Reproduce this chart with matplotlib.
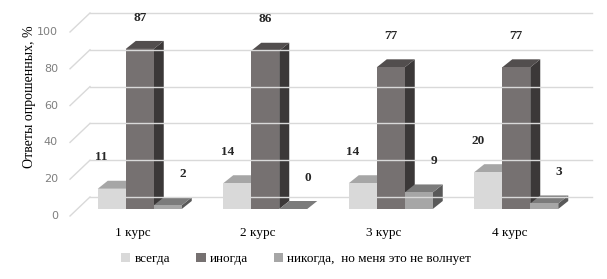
import matplotlib.pyplot as plt
from matplotlib.patches import Polygon, Patch

# data
courses = ['1 курс', '2 курс', '3 курс', '4 курс']
series_names = ['всегда', 'иногда', 'никогда,  но меня это не волнует']
always = [11, 14, 14, 20]
sometimes = [87, 86, 77, 77]
never = [2, 0, 9, 3]
y_ticks = [0, 20, 40, 60, 80, 100]

# colours: front, top, side
colors = [('#d9d9d9', '#a6a6a6', '#8c8c8c'),
          ('#767171', '#524e4e', '#3b3838'),
          ('#a6a6a6', '#7b7b7b', '#595959')]
label_dx = [-10, 0, 15]   # px shift of value labels per series

W, H, DPI = 6.07, 2.79, 100
fig = plt.figure(figsize=(W, H), dpi=DPI)
# axes = front plane of the 3d box
ax_l, ax_b, ax_w, ax_h = 70, 63, 502, 184   # pixels
ax = fig.add_axes([ax_l / 607, ax_b / 279, ax_w / 607, ax_h / 279])
ax.set_xlim(-0.5, len(courses) - 0.5)
ax.set_ylim(0, 100)
ax.axis('off')

px_x = (len(courses)) / ax_w     # data units per pixel
px_y = 100 / ax_h

def dx(p):
    return p * px_x

def dy(p):
    return p * px_y

# back wall grid + side wall diagonals
wall_x, wall_y = 20, 19
for t in y_ticks:
    ax.plot([-0.5 + dx(wall_x), len(courses) - 0.5 + dx(wall_x)],
            [t + dy(wall_y), t + dy(wall_y)], color='#d9d9d9', lw=1, clip_on=False)
    ax.plot([-0.5, -0.5 + dx(wall_x)], [t, t + dy(wall_y)],
            color='#d9d9d9', lw=1, clip_on=False)
    ax.text(-0.5 - dx(12), t, str(t), ha='right', va='center', fontsize=8,
            color='#7f7f7f', family='DejaVu Sans')

# bars
bar_w = 28 * px_x
off_x, off_y = dx(7), dy(7)       # bar position inside depth
dep_x, dep_y = dx(10), dy(8)      # bar depth
series = [always, sometimes, never]
for si, vals in enumerate(series):
    front, top, side = colors[si]
    for gi, v in enumerate(vals):
        x0 = gi + (si - 1) * bar_w - bar_w / 2 + off_x
        y0 = off_y
        x1 = x0 + bar_w
        y1 = y0 + v
        ax.add_patch(Polygon([(x1, y0), (x1, y1), (x1 + dep_x, y1 + dep_y),
                              (x1 + dep_x, y0 + dep_y)], closed=True,
                             facecolor=side, edgecolor='none', clip_on=False))
        ax.add_patch(Polygon([(x0, y1), (x1, y1), (x1 + dep_x, y1 + dep_y),
                              (x0 + dep_x, y1 + dep_y)], closed=True,
                             facecolor=top, edgecolor='none', clip_on=False))
        if v > 0:
            ax.bar(x0, v, width=bar_w, bottom=y0, align='edge', color=front,
                   edgecolor='none', clip_on=False)
        ax.text((x0 + x1) / 2 + dx(label_dx[si]), y1 + 17, str(v),
                ha='center', va='center', fontsize=9.5, fontweight='bold',
                family='Liberation Serif', color='#262626')

# category labels
for gi, c in enumerate(courses):
    ax.text(gi, -dy(17), c, ha='center', va='center', fontsize=9.5,
            family='Liberation Serif')

fig.text(30 / 607, 1 - 97 / 279, 'Ответы опрошенных, %', rotation=90,
         ha='center', va='center', fontsize=10, family='Liberation Serif')

handles = [Patch(facecolor=colors[i][0], edgecolor='none') for i in range(3)]
fig.legend(handles, series_names, loc='center', bbox_to_anchor=(0.488, 1 - 259 / 279),
           ncol=3, frameon=False, handlelength=0.7, handleheight=0.7,
           handletextpad=0.3, columnspacing=2.0,
           prop={'family': 'Liberation Serif', 'size': 9.5})

fig.savefig('out.png', dpi=DPI)
